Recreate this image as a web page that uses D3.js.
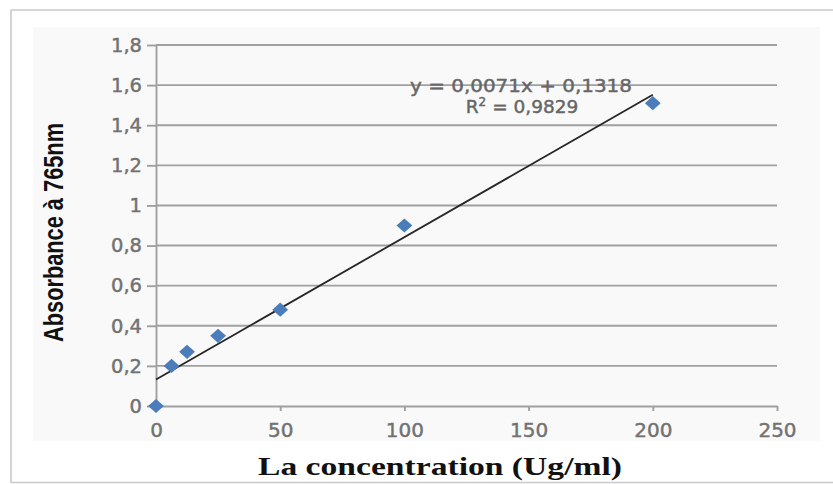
<!DOCTYPE html>
<html>
<head>
<meta charset="utf-8">
<script src="https://cdn.jsdelivr.net/npm/d3@7"></script>
<style>
  html, body { margin: 0; padding: 0; background: #ffffff; }
  svg { display: block; }
</style>
</head>
<body>
<svg id="chart" width="833" height="484"></svg>
<script>
// Calibration data: concentration (µg/ml) vs absorbance at 765 nm
const concentration = [0, 6.25, 12.5, 25, 50, 100, 200];
const absorbance    = [0, 0.20, 0.27, 0.35, 0.48, 0.90, 1.51];

// Linear fit reported on the chart
const fitSlope = 0.0071;
const fitIntercept = 0.1318;
const fitR2 = 0.9829;
const fitRange = [0, 200];

// Axis ticks
const xTicks = [0, 50, 100, 150, 200, 250];
const yTicks = [0, 0.2, 0.4, 0.6, 0.8, 1, 1.2, 1.4, 1.6, 1.8];

// Text
const xTitle = "La concentration (Ug/ml)";
const yTitle = "Absorbance à 765nm";

const svg = d3.select("#chart");
const W = 833, H = 484;

const x = d3.scaleLinear().domain([0, 250]).range([156, 777]);
const y = d3.scaleLinear().domain([0, 1.8]).range([406, 45]);

const decimalComma = d => String(+d.toFixed(4)).replace(".", ",");

// Outer frame and panel background
svg.append("rect").attr("x", 0).attr("y", 0).attr("width", W).attr("height", H).attr("fill", "#ffffff");
svg.append("rect").attr("x", 33).attr("y", 27).attr("width", 787).attr("height", 414).attr("fill", "#f9f9f9");
const frame = svg.append("g").attr("stroke", "#c9c9c9").attr("stroke-width", 1.6).attr("fill", "none");
frame.append("line").attr("x1", 11).attr("y1", 10).attr("x2", W).attr("y2", 10);
frame.append("line").attr("x1", 11).attr("y1", 10).attr("x2", 11).attr("y2", 483);
frame.append("line").attr("x1", 11).attr("y1", 482.5).attr("x2", W).attr("y2", 482.5);

// Horizontal gridlines
svg.append("g")
  .selectAll("line")
  .data(yTicks.filter(t => t > 0))
  .join("line")
  .attr("x1", x(0)).attr("x2", x(250))
  .attr("y1", d => y(d)).attr("y2", d => y(d))
  .attr("stroke", "#a0a0a0")
  .attr("stroke-width", 1.9);

// Tick label styling shared by both axes
const styleTickText = (sel, size) => sel
  .attr("fill", "#727272")
  .attr("stroke", "#727272")
  .attr("stroke-width", 0.45)
  .attr("font-family", "'DejaVu Sans', sans-serif")
  .attr("font-size", size);

// Y axis
const yAxis = svg.append("g")
  .attr("transform", `translate(${x(0)},0)`)
  .call(d3.axisLeft(y).tickValues(yTicks).tickFormat(decimalComma).tickSize(9).tickSizeOuter(0).tickPadding(5));
yAxis.select(".domain").attr("stroke", "#a0a0a0").attr("stroke-width", 1.9);
yAxis.selectAll(".tick line").attr("stroke", "#a0a0a0").attr("stroke-width", 1.9);
styleTickText(yAxis.selectAll(".tick text"), 19.5);

// X axis
const xAxis = svg.append("g")
  .attr("transform", `translate(0,${y(0)})`)
  .call(d3.axisBottom(x).tickValues(xTicks).tickFormat(decimalComma).tickSize(5).tickSizeOuter(0).tickPadding(12));
xAxis.select(".domain").attr("stroke", "#a0a0a0").attr("stroke-width", 1.9);
xAxis.selectAll(".tick line").attr("stroke", "#a0a0a0").attr("stroke-width", 1.9);
styleTickText(xAxis.selectAll(".tick text"), 20);

// Trend line
svg.append("line")
  .attr("x1", x(fitRange[0])).attr("y1", y(fitSlope * fitRange[0] + fitIntercept))
  .attr("x2", x(fitRange[1])).attr("y2", y(fitSlope * fitRange[1] + fitIntercept))
  .attr("stroke", "#262626")
  .attr("stroke-width", 1.8);

// Data markers (diamonds)
const diamond = d3.symbol().type(d3.symbolSquare).size(125);
svg.append("g")
  .selectAll("path")
  .data(concentration.map((c, i) => ({ c, a: absorbance[i] })))
  .join("path")
  .attr("d", diamond)
  .attr("transform", d => `translate(${x(d.c)},${y(d.a)}) scale(1,0.9) rotate(45)`)
  .attr("fill", "#4a7dba");

// Regression equation
const eq = svg.append("g")
  .attr("fill", "#666666")
  .attr("stroke", "#666666")
  .attr("stroke-width", 0.45)
  .attr("font-family", "'DejaVu Sans', sans-serif")
  .attr("text-anchor", "middle");
eq.append("text")
  .attr("x", 521).attr("y", 92)
  .attr("font-size", 18.5)
  .attr("textLength", 222)
  .attr("lengthAdjust", "spacingAndGlyphs")
  .text(`y = ${decimalComma(fitSlope)}x + ${decimalComma(fitIntercept)}`);
const r2 = eq.append("text")
  .attr("x", 522).attr("y", 113)
  .attr("font-size", 18.5);
r2.append("tspan").text("R");
r2.append("tspan").attr("font-size", 12).attr("dy", -7).text("2");
r2.append("tspan").attr("dy", 7).text(` = ${decimalComma(fitR2)}`);

// Y axis title
svg.append("text")
  .attr("transform", `translate(63,232.5) rotate(-90)`)
  .attr("text-anchor", "middle")
  .attr("font-family", "'Liberation Sans Narrow', 'Arial Narrow', 'Liberation Sans', sans-serif")
  .attr("font-weight", "bold")
  .attr("font-size", 27)
  .attr("textLength", 219)
  .attr("lengthAdjust", "spacingAndGlyphs")
  .attr("fill", "#111111")
  .text(yTitle);

// X axis title, sitting just above the bottom frame line
svg.append("text")
  .attr("x", 440).attr("y", 475)
  .attr("text-anchor", "middle")
  .attr("font-family", "'Liberation Serif', 'Times New Roman', serif")
  .attr("font-weight", "bold")
  .attr("font-size", 25)
  .attr("textLength", 364)
  .attr("lengthAdjust", "spacingAndGlyphs")
  .attr("fill", "#111111")
  .text(xTitle);
</script>
</body>
</html>
